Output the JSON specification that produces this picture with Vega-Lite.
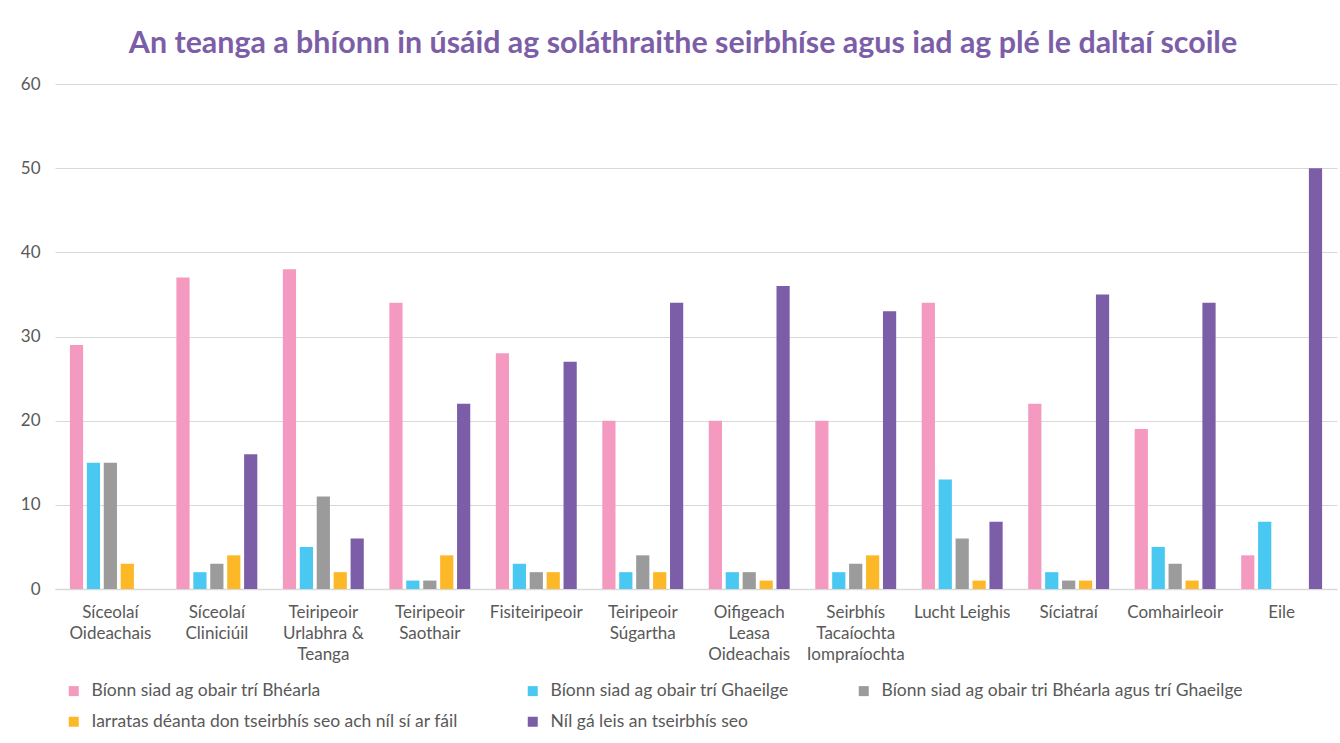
{
  "$schema": "https://vega.github.io/schema/vega-lite/v6.json",
  "autosize": {"type": "none"},
  "padding": {"left": 55, "top": 84, "right": 3, "bottom": 154},
  "width": 1282,
  "height": 505,
  "background": "white",
  "title": {
    "text": "An teanga a bhíonn in úsáid ag soláthraithe seirbhíse agus iad ag plé le daltaí scoile",
    "font": "Lato",
    "fontSize": 30.4,
    "fontWeight": "bold",
    "color": "#7B5EA7",
    "anchor": "middle",
    "frame": "group",
    "dx": -13,
    "offset": 16
  },
  "config": {
    "font": "Lato",
    "view": {"stroke": null},
    "axis": {"labelFont": "Lato", "labelColor": "#595959", "labelFontSize": 17}
  },
  "datasets": {
    "rows": [
      {"cat": "Síceolaí|Oideachais", "series": "Bíonn siad ag obair trí Bhéarla", "value": 29},
      {"cat": "Síceolaí|Oideachais", "series": "Bíonn siad ag obair trí Ghaeilge", "value": 15},
      {"cat": "Síceolaí|Oideachais", "series": "Bíonn siad ag obair tri Bhéarla agus trí Ghaeilge", "value": 15},
      {"cat": "Síceolaí|Oideachais", "series": "Iarratas déanta don tseirbhís seo ach níl sí ar fáil", "value": 3},
      {"cat": "Síceolaí|Oideachais", "series": "Níl gá leis an tseirbhís seo", "value": 0},
      {"cat": "Síceolaí|Cliniciúil", "series": "Bíonn siad ag obair trí Bhéarla", "value": 37},
      {"cat": "Síceolaí|Cliniciúil", "series": "Bíonn siad ag obair trí Ghaeilge", "value": 2},
      {"cat": "Síceolaí|Cliniciúil", "series": "Bíonn siad ag obair tri Bhéarla agus trí Ghaeilge", "value": 3},
      {"cat": "Síceolaí|Cliniciúil", "series": "Iarratas déanta don tseirbhís seo ach níl sí ar fáil", "value": 4},
      {"cat": "Síceolaí|Cliniciúil", "series": "Níl gá leis an tseirbhís seo", "value": 16},
      {"cat": "Teiripeoir|Urlabhra &|Teanga", "series": "Bíonn siad ag obair trí Bhéarla", "value": 38},
      {"cat": "Teiripeoir|Urlabhra &|Teanga", "series": "Bíonn siad ag obair trí Ghaeilge", "value": 5},
      {"cat": "Teiripeoir|Urlabhra &|Teanga", "series": "Bíonn siad ag obair tri Bhéarla agus trí Ghaeilge", "value": 11},
      {"cat": "Teiripeoir|Urlabhra &|Teanga", "series": "Iarratas déanta don tseirbhís seo ach níl sí ar fáil", "value": 2},
      {"cat": "Teiripeoir|Urlabhra &|Teanga", "series": "Níl gá leis an tseirbhís seo", "value": 6},
      {"cat": "Teiripeoir|Saothair", "series": "Bíonn siad ag obair trí Bhéarla", "value": 34},
      {"cat": "Teiripeoir|Saothair", "series": "Bíonn siad ag obair trí Ghaeilge", "value": 1},
      {"cat": "Teiripeoir|Saothair", "series": "Bíonn siad ag obair tri Bhéarla agus trí Ghaeilge", "value": 1},
      {"cat": "Teiripeoir|Saothair", "series": "Iarratas déanta don tseirbhís seo ach níl sí ar fáil", "value": 4},
      {"cat": "Teiripeoir|Saothair", "series": "Níl gá leis an tseirbhís seo", "value": 22},
      {"cat": "Fisiteiripeoir", "series": "Bíonn siad ag obair trí Bhéarla", "value": 28},
      {"cat": "Fisiteiripeoir", "series": "Bíonn siad ag obair trí Ghaeilge", "value": 3},
      {"cat": "Fisiteiripeoir", "series": "Bíonn siad ag obair tri Bhéarla agus trí Ghaeilge", "value": 2},
      {"cat": "Fisiteiripeoir", "series": "Iarratas déanta don tseirbhís seo ach níl sí ar fáil", "value": 2},
      {"cat": "Fisiteiripeoir", "series": "Níl gá leis an tseirbhís seo", "value": 27},
      {"cat": "Teiripeoir|Súgartha", "series": "Bíonn siad ag obair trí Bhéarla", "value": 20},
      {"cat": "Teiripeoir|Súgartha", "series": "Bíonn siad ag obair trí Ghaeilge", "value": 2},
      {"cat": "Teiripeoir|Súgartha", "series": "Bíonn siad ag obair tri Bhéarla agus trí Ghaeilge", "value": 4},
      {"cat": "Teiripeoir|Súgartha", "series": "Iarratas déanta don tseirbhís seo ach níl sí ar fáil", "value": 2},
      {"cat": "Teiripeoir|Súgartha", "series": "Níl gá leis an tseirbhís seo", "value": 34},
      {"cat": "Oifigeach|Leasa|Oideachais", "series": "Bíonn siad ag obair trí Bhéarla", "value": 20},
      {"cat": "Oifigeach|Leasa|Oideachais", "series": "Bíonn siad ag obair trí Ghaeilge", "value": 2},
      {"cat": "Oifigeach|Leasa|Oideachais", "series": "Bíonn siad ag obair tri Bhéarla agus trí Ghaeilge", "value": 2},
      {"cat": "Oifigeach|Leasa|Oideachais", "series": "Iarratas déanta don tseirbhís seo ach níl sí ar fáil", "value": 1},
      {"cat": "Oifigeach|Leasa|Oideachais", "series": "Níl gá leis an tseirbhís seo", "value": 36},
      {"cat": "Seirbhís|Tacaíochta|Iompraíochta", "series": "Bíonn siad ag obair trí Bhéarla", "value": 20},
      {"cat": "Seirbhís|Tacaíochta|Iompraíochta", "series": "Bíonn siad ag obair trí Ghaeilge", "value": 2},
      {"cat": "Seirbhís|Tacaíochta|Iompraíochta", "series": "Bíonn siad ag obair tri Bhéarla agus trí Ghaeilge", "value": 3},
      {"cat": "Seirbhís|Tacaíochta|Iompraíochta", "series": "Iarratas déanta don tseirbhís seo ach níl sí ar fáil", "value": 4},
      {"cat": "Seirbhís|Tacaíochta|Iompraíochta", "series": "Níl gá leis an tseirbhís seo", "value": 33},
      {"cat": "Lucht Leighis", "series": "Bíonn siad ag obair trí Bhéarla", "value": 34},
      {"cat": "Lucht Leighis", "series": "Bíonn siad ag obair trí Ghaeilge", "value": 13},
      {"cat": "Lucht Leighis", "series": "Bíonn siad ag obair tri Bhéarla agus trí Ghaeilge", "value": 6},
      {"cat": "Lucht Leighis", "series": "Iarratas déanta don tseirbhís seo ach níl sí ar fáil", "value": 1},
      {"cat": "Lucht Leighis", "series": "Níl gá leis an tseirbhís seo", "value": 8},
      {"cat": "Síciatraí", "series": "Bíonn siad ag obair trí Bhéarla", "value": 22},
      {"cat": "Síciatraí", "series": "Bíonn siad ag obair trí Ghaeilge", "value": 2},
      {"cat": "Síciatraí", "series": "Bíonn siad ag obair tri Bhéarla agus trí Ghaeilge", "value": 1},
      {"cat": "Síciatraí", "series": "Iarratas déanta don tseirbhís seo ach níl sí ar fáil", "value": 1},
      {"cat": "Síciatraí", "series": "Níl gá leis an tseirbhís seo", "value": 35},
      {"cat": "Comhairleoir", "series": "Bíonn siad ag obair trí Bhéarla", "value": 19},
      {"cat": "Comhairleoir", "series": "Bíonn siad ag obair trí Ghaeilge", "value": 5},
      {"cat": "Comhairleoir", "series": "Bíonn siad ag obair tri Bhéarla agus trí Ghaeilge", "value": 3},
      {"cat": "Comhairleoir", "series": "Iarratas déanta don tseirbhís seo ach níl sí ar fáil", "value": 1},
      {"cat": "Comhairleoir", "series": "Níl gá leis an tseirbhís seo", "value": 34},
      {"cat": "Eile", "series": "Bíonn siad ag obair trí Bhéarla", "value": 4},
      {"cat": "Eile", "series": "Bíonn siad ag obair trí Ghaeilge", "value": 8},
      {"cat": "Eile", "series": "Bíonn siad ag obair tri Bhéarla agus trí Ghaeilge", "value": 0},
      {"cat": "Eile", "series": "Iarratas déanta don tseirbhís seo ach níl sí ar fáil", "value": 0},
      {"cat": "Eile", "series": "Níl gá leis an tseirbhís seo", "value": 50}
    ]
  },
  "data": {"name": "rows"},
  "mark": {"type": "bar"},
  "encoding": {
    "x": {
      "field": "cat",
      "type": "nominal",
      "sort": null,
      "scale": {"paddingInner": 0.24, "paddingOuter": 0.14},
      "axis": {
        "title": null,
        "labelAngle": 0,
        "labelExpr": "split(datum.value, '|')",
        "labelLineHeight": 21,
        "labelPadding": 15,
        "labelBaseline": "top",
        "ticks": false,
        "domainColor": "#D9D9D9",
        "domainWidth": 1.5
      }
    },
    "xOffset": {
      "field": "series",
      "type": "nominal",
      "sort": null,
      "scale": {"paddingInner": 0.22}
    },
    "y": {
      "field": "value",
      "type": "quantitative",
      "scale": {"domain": [0, 60]},
      "axis": {
        "title": null,
        "values": [0, 10, 20, 30, 40, 50, 60],
        "domain": false,
        "ticks": false,
        "labelPadding": 15,
        "gridColor": "#D9D9D9",
        "gridWidth": 1.2
      }
    },
    "color": {
      "field": "series",
      "type": "nominal",
      "sort": null,
      "scale": {
        "domain": [
          "Bíonn siad ag obair trí Bhéarla",
          "Bíonn siad ag obair trí Ghaeilge",
          "Bíonn siad ag obair tri Bhéarla agus trí Ghaeilge",
          "Iarratas déanta don tseirbhís seo ach níl sí ar fáil",
          "Níl gá leis an tseirbhís seo"
        ],
        "range": ["#F49AC1", "#49C8F1", "#9B9B9B", "#FDB827", "#7B5EA7"]
      },
      "legend": {
        "title": null,
        "orient": "bottom",
        "direction": "horizontal",
        "columns": 3,
        "columnPadding": 66,
        "rowPadding": 12,
        "padding": 10,
        "symbolType": "square",
        "symbolSize": 100,
        "symbolStrokeWidth": 0,
        "labelFont": "Lato",
        "labelFontSize": 17.5,
        "labelColor": "#595959",
        "labelLimit": 500,
        "labelOffset": 9,
        "offset": 10
      }
    }
  }
}
